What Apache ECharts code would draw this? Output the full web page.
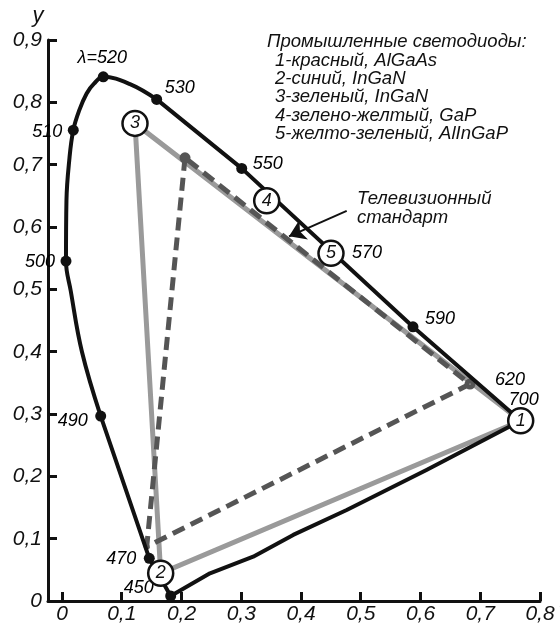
<!DOCTYPE html>
<html><head><meta charset="utf-8">
<script src="https://cdn.jsdelivr.net/npm/echarts@6/dist/echarts.min.js"></script>
<style>html,body{margin:0;padding:0;background:#fff}#c{width:560px;height:639px}</style>
</head><body><div id="c"></div>
<script>
// ---- data ----
const xTickValues = [0, 0.1, 0.2, 0.3, 0.4, 0.5, 0.6, 0.7, 0.8];
const yTickValues = [0, 0.1, 0.2, 0.3, 0.4, 0.5, 0.6, 0.7, 0.8, 0.9];

// spectral locus, curved upper-left part (490 -> 530)
const locusUpperX = [0.0648, 0.0335, 0.0146, 0.0067, 0.0075, 0.0122, 0.0189, 0.0290, 0.0413, 0.0536, 0.0691, 0.1138, 0.1585];
const locusUpperY = [0.2967, 0.3994, 0.4977, 0.5453, 0.6431, 0.7073, 0.7554, 0.7875, 0.8143, 0.8300, 0.8409, 0.8292, 0.8047];
// spectral locus, straight part (530 -> 700 -> purple line -> 450 -> 470 -> 490)
const locusLowerX = [0.1585, 0.3008, 0.5874, 0.7677, 0.6100, 0.4765, 0.3870, 0.3200, 0.2477, 0.1819, 0.1461, 0.0648];
const locusLowerY = [0.8047, 0.6940, 0.4399, 0.2892, 0.2100, 0.1460, 0.1060, 0.0711, 0.0444, 0.0080, 0.0685, 0.2967];

// wavelength marks (dots) on the locus
const wlNames = ['450', '470', '490', '500', '510', 'λ=520', '530', '550', '590'];
const wlX = [0.1819, 0.1461, 0.0648, 0.0067, 0.0189, 0.0691, 0.1585, 0.3008, 0.5874];
const wlY = [0.0080, 0.0685, 0.2967, 0.5453, 0.7554, 0.8409, 0.8047, 0.6940, 0.4399];
// wavelength labels without their own dot
const wlExtraNames = ['570', '620', '700'];
const wlExtraX = [0.4502, 0.6828, 0.7677];
const wlExtraY = [0.5577, 0.3480, 0.2892];

// industrial LEDs
const ledNames = ['1', '2', '3', '4', '5'];
const ledX = [0.7677, 0.1652, 0.1222, 0.3426, 0.4502];
const ledY = [0.2892, 0.0444, 0.7662, 0.6420, 0.5577];
const ledTriangle = [0, 1, 2, 0];

// TV standard primaries
const tvNames = ['G', 'B', 'R'];
const tvX = [0.2059, 0.1418, 0.6828];
const tvY = [0.7110, 0.0871, 0.3480];

const legendLines = ['Промышленные светодиоды:', '1-красный, AlGaAs', '2-синий, InGaN', '3-зеленый, InGaN', '4-зелено-желтый, GaP', '5-желто-зеленый, AlInGaP'];
const tvCaption = ['Телевизионный', 'стандарт'];
const arrowFrom = [0.4765, 0.626];
const arrowTo = [0.380, 0.585];

// ---- chart ----
const FONT = '"Liberation Sans", Arial, sans-serif';
const zip = (xs, ys) => xs.map((x, i) => [x, ys[i]]);
const fmt = v => (Math.abs(v) < 1e-9 ? '0' : (+v).toFixed(1).replace('.', ','));

const wlOffsets = {
  '450': [-32, -8], '470': [-28, 1], '490': [-28, 5], '500': [-26, 1], '510': [-26, 2],
  'λ=520': [-1, -19], '530': [23, -11], '550': [26, -4], '590': [27, -8],
  '570': [36, 0], '620': [40, -4], '700': [3, -21]
};

const labelFont = {fontFamily: FONT, fontStyle: 'italic', fontSize: 18, color: '#000', textBorderWidth: 0, opacity: 1};

const chart = echarts.init(document.getElementById('c'), null, {renderer: 'canvas'});
const axisCommon = {
  axisLine: {show: true, onZero: false, lineStyle: {color: '#111', width: 3}},
  axisTick: {show: true, inside: true, length: 9, lineStyle: {color: '#111', width: 3}},
  splitLine: {show: false},
  axisLabel: {fontFamily: FONT, fontStyle: 'italic', fontSize: 21, color: '#111', formatter: fmt}
};

const legendGraphics = legendLines.map((t, i) => ({
  type: 'text', x: i === 0 ? 267 : 275, y: [42, 60.5, 79, 97, 115.5, 134][i],
  style: {text: t, fill: '#111', font: 'italic 18.5px ' + FONT, verticalAlign: 'middle', align: 'left'}
}));
const captionGraphics = tvCaption.map((t, i) => ({
  type: 'text', x: 357, y: [199, 218][i],
  style: {text: t, fill: '#111', font: 'italic 18.5px ' + FONT, verticalAlign: 'middle', align: 'left'}
}));

chart.setOption({
  animation: false,
  backgroundColor: '#fff',
  grid: {left: 48, right: 20, top: 40, bottom: 38, outerBoundsMode: 'none', containLabel: false},
  xAxis: Object.assign({}, axisCommon, {
    type: 'value', min: -0.0234, max: 0.8,
    name: 'x', nameLocation: 'end', nameGap: 8,
    nameTextStyle: {fontFamily: FONT, fontStyle: 'italic', fontSize: 22, color: '#111', verticalAlign: 'middle', padding: [62, 0, 0, 0]},
    axisTick: Object.assign({}, axisCommon.axisTick, {customValues: xTickValues}),
    axisLabel: Object.assign({}, axisCommon.axisLabel, {customValues: xTickValues, margin: 3})
  }),
  yAxis: Object.assign({}, axisCommon, {
    type: 'value', min: 0, max: 0.9, interval: 0.1,
    name: 'y', nameLocation: 'end', nameGap: 13,
    nameTextStyle: {fontFamily: FONT, fontStyle: 'italic', fontSize: 22, color: '#111', padding: [0, 20, 0, 0]},
    axisTick: Object.assign({}, axisCommon.axisTick, {customValues: yTickValues}),
    axisLabel: Object.assign({}, axisCommon.axisLabel, {customValues: yTickValues, margin: 6})
  }),
  graphic: legendGraphics.concat(captionGraphics),
  series: [
    { // LED gamut
      type: 'line', data: ledTriangle.map(i => [ledX[i], ledY[i]]), showSymbol: false, z: 2,
      lineStyle: {color: '#9a9a9a', width: 5, join: 'miter'}
    },
    { // TV standard gamut
      type: 'line', data: [0, 1, 2, 0].map(i => [tvX[i], tvY[i]]), showSymbol: false, z: 3,
      lineStyle: {color: '#555', width: 5, type: [13, 7], cap: 'butt'}
    },
    { // TV primaries dots
      type: 'scatter', data: zip(tvX, tvY), z: 4, symbolSize: (v, p) => p.dataIndex === 1 ? 6 : 11,
      itemStyle: {color: '#555', opacity: 1}
    },
    { // locus curved part
      type: 'line', data: zip(locusUpperX, locusUpperY), showSymbol: false, smooth: 0.4, z: 5,
      lineStyle: {color: '#111', width: 4}
    },
    { // locus straight part
      type: 'line', data: zip(locusLowerX, locusLowerY), showSymbol: false, z: 5,
      lineStyle: {color: '#111', width: 4, join: 'round'}
    },
    { // wavelength dots
      type: 'scatter', z: 6, symbolSize: 11, itemStyle: {color: '#111', opacity: 1},
      data: wlNames.map((n, i) => ({name: n, value: [wlX[i], wlY[i]],
        label: {offset: wlOffsets[n]}})),
      label: Object.assign({show: true, position: 'inside', formatter: '{b}'}, labelFont)
    },
    { // wavelength labels without dots
      type: 'scatter', z: 6, symbolSize: 1, itemStyle: {color: '#fff', opacity: 1},
      data: wlExtraNames.map((n, i) => ({name: n, value: [wlExtraX[i], wlExtraY[i]],
        label: {offset: wlOffsets[n]}})),
      label: Object.assign({show: true, position: 'inside', formatter: '{b}'}, labelFont)
    },
    { // LED circles
      type: 'scatter', z: 8, symbolSize: 25,
      itemStyle: {color: '#fff', borderColor: '#111', borderWidth: 2.5, opacity: 1},
      data: ledNames.map((n, i) => ({name: n, value: [ledX[i], ledY[i]]})),
      label: {show: true, position: 'inside', formatter: '{b}', fontFamily: FONT, fontStyle: 'italic', fontSize: 18, color: '#111', textBorderWidth: 0}
    },
    { // arrow to TV standard
      type: 'line', data: [], z: 9,
      markLine: {
        silent: true, symbol: ['none', 'arrow'], symbolSize: 16,
        label: {show: false},
        lineStyle: {color: '#111', width: 2, type: 'solid', opacity: 1},
        data: [[{coord: arrowFrom}, {coord: arrowTo}]]
      }
    }
  ]
});
</script>
</body></html>
